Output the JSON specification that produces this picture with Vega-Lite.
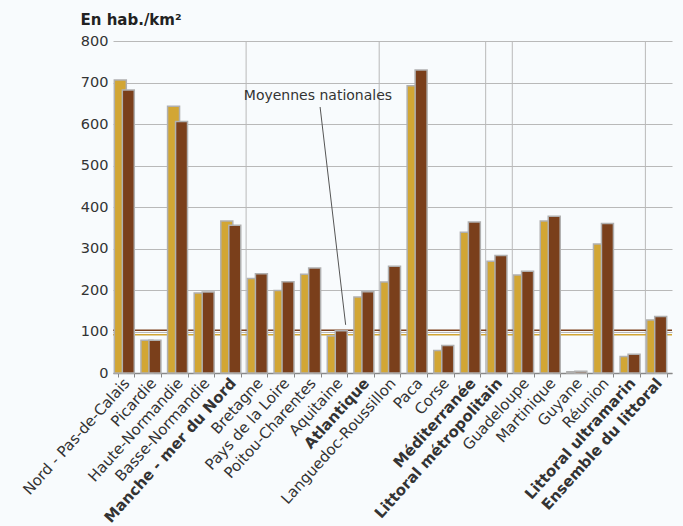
{
  "$schema": "https://vega.github.io/schema/vega-lite/v6.json",
  "autosize": "none",
  "width": 559,
  "height": 332,
  "padding": {"left": 113, "top": 41, "right": 11, "bottom": 153},
  "background": "#f8fbfd",
  "config": {"view": {"stroke": null}, "font": "DejaVu Sans"},
  "datasets": {
    "densite": [
      {"zone": "Nord - Pas-de-Calais", "annee": "1999", "valeur": 706},
      {"zone": "Picardie", "annee": "1999", "valeur": 79},
      {"zone": "Haute-Normandie", "annee": "1999", "valeur": 643},
      {"zone": "Basse-Normandie", "annee": "1999", "valeur": 193},
      {"zone": "Manche - mer du Nord", "annee": "1999", "valeur": 366},
      {"zone": "Bretagne", "annee": "1999", "valeur": 228},
      {"zone": "Pays de la Loire", "annee": "1999", "valeur": 199},
      {"zone": "Poitou-Charentes", "annee": "1999", "valeur": 238},
      {"zone": "Aquitaine", "annee": "1999", "valeur": 89},
      {"zone": "Atlantique", "annee": "1999", "valeur": 183},
      {"zone": "Languedoc-Roussillon", "annee": "1999", "valeur": 219},
      {"zone": "Paca", "annee": "1999", "valeur": 692},
      {"zone": "Corse", "annee": "1999", "valeur": 54},
      {"zone": "Méditerranée", "annee": "1999", "valeur": 339},
      {"zone": "Littoral métropolitain", "annee": "1999", "valeur": 269},
      {"zone": "Guadeloupe", "annee": "1999", "valeur": 236},
      {"zone": "Martinique", "annee": "1999", "valeur": 366},
      {"zone": "Guyane", "annee": "1999", "valeur": 3},
      {"zone": "Réunion", "annee": "1999", "valeur": 311},
      {"zone": "Littoral ultramarin", "annee": "1999", "valeur": 40},
      {"zone": "Ensemble du littoral", "annee": "1999", "valeur": 128},
      {"zone": "Nord - Pas-de-Calais", "annee": "2010", "valeur": 682},
      {"zone": "Picardie", "annee": "2010", "valeur": 79},
      {"zone": "Haute-Normandie", "annee": "2010", "valeur": 606},
      {"zone": "Basse-Normandie", "annee": "2010", "valeur": 195},
      {"zone": "Manche - mer du Nord", "annee": "2010", "valeur": 356},
      {"zone": "Bretagne", "annee": "2010", "valeur": 239},
      {"zone": "Pays de la Loire", "annee": "2010", "valeur": 220},
      {"zone": "Poitou-Charentes", "annee": "2010", "valeur": 253},
      {"zone": "Aquitaine", "annee": "2010", "valeur": 102},
      {"zone": "Atlantique", "annee": "2010", "valeur": 196},
      {"zone": "Languedoc-Roussillon", "annee": "2010", "valeur": 257},
      {"zone": "Paca", "annee": "2010", "valeur": 730},
      {"zone": "Corse", "annee": "2010", "valeur": 66},
      {"zone": "Méditerranée", "annee": "2010", "valeur": 364},
      {"zone": "Littoral métropolitain", "annee": "2010", "valeur": 283},
      {"zone": "Guadeloupe", "annee": "2010", "valeur": 245},
      {"zone": "Martinique", "annee": "2010", "valeur": 378},
      {"zone": "Guyane", "annee": "2010", "valeur": 4},
      {"zone": "Réunion", "annee": "2010", "valeur": 360},
      {"zone": "Littoral ultramarin", "annee": "2010", "valeur": 45},
      {"zone": "Ensemble du littoral", "annee": "2010", "valeur": 136}
    ],
    "moyennes": [
      {"annee": "1999", "valeur": 92},
      {"annee": "2010", "valeur": 103}
    ],
    "separateurs": [
      {"pos": 5}, {"pos": 10}, {"pos": 14}, {"pos": 15}, {"pos": 20}
    ],
    "renvoi": [
      {"x1": 7.78, "y1": 641, "x2": 8.74, "y2": 116}
    ],
    "etiquette": [
      {"pos": 7.7, "valeur": 659, "texte": "Moyennes nationales"}
    ]
  },
  "resolve": {"scale": {"x": "independent"}},
  "layer": [
    {
      "data": {"name": "separateurs"},
      "mark": {"type": "rule", "color": "#b9b9b9", "strokeWidth": 1},
      "encoding": {
        "x": {"field": "pos", "type": "quantitative", "scale": {"domain": [0, 21], "nice": false, "zero": false}, "axis": null},
        "y": {
          "datum": 0, "type": "quantitative", "scale": {"domain": [0, 800], "nice": false},
          "axis": {
            "title": "En hab./km²", "titleAngle": 0, "titleAlign": "left", "titleBaseline": "alphabetic",
            "titleX": -33, "titleY": -17, "titleFontSize": 15, "titleFontWeight": "bold", "titleColor": "#222222",
            "values": [0, 100, 200, 300, 400, 500, 600, 700, 800],
            "labelFontSize": 14.5, "labelColor": "#333333", "labelPadding": 5,
            "ticks": false, "domain": false, "grid": true, "gridColor": "#b9b9b9", "gridWidth": 1, "gridOpacity": 1
          }
        },
        "y2": {"datum": 800}
      }
    },
    {
      "data": {"name": "moyennes"},
      "mark": {"type": "rule", "strokeWidth": 1.5},
      "encoding": {
        "y": {"field": "valeur", "type": "quantitative"},
        "color": {"field": "annee", "type": "nominal", "scale": {"domain": ["1999", "2010"], "range": ["#d2a634", "#7a3f1b"]}, "legend": null}
      }
    },
    {
      "data": {"name": "densite"},
      "mark": {"type": "bar", "stroke": "#b0b0b0", "strokeWidth": 1.5, "width": {"band": 1.5}},
      "encoding": {
        "x": {
          "field": "zone", "type": "nominal", "sort": null,
          "scale": {"paddingInner": 0.4, "paddingOuter": 0.2},
          "axis": {
            "title": null, "labelAngle": -48, "labelFontSize": 15, "labelColor": "#333333", "labelLimit": 300,
            "labelFontWeight": {"condition": {"test": "indexof(['Manche - mer du Nord','Atlantique','Méditerranée','Littoral métropolitain','Littoral ultramarin','Ensemble du littoral'], datum.value) >= 0", "value": "bold"}, "value": "normal"},
            "tickBand": "extent", "tickColor": "#888888", "tickSize": 4, "domainColor": "#888888", "domainWidth": 1.5,
            "labelPadding": 3
          }
        },
        "xOffset": {"field": "annee", "type": "nominal", "scale": {"paddingInner": 0, "paddingOuter": 0}},
        "y": {"field": "valeur", "type": "quantitative"},
        "color": {
          "field": "annee", "type": "nominal",
          "legend": {
            "title": null, "orient": "none", "legendX": 460, "legendY": 58,
            "symbolType": "square", "symbolSize": 169, "symbolStrokeColor": "#aaaaaa", "symbolStrokeWidth": 1.5,
            "labelFontSize": 14.5, "labelColor": "#222222", "rowPadding": 7, "labelOffset": 4, "padding": 0
          }
        }
      }
    },
    {
      "data": {"name": "renvoi"},
      "mark": {"type": "rule", "color": "#555555", "strokeWidth": 1},
      "encoding": {
        "x": {"field": "x1", "type": "quantitative", "scale": {"domain": [0, 21], "nice": false, "zero": false}, "axis": null},
        "x2": {"field": "x2"},
        "y": {"field": "y1", "type": "quantitative"},
        "y2": {"field": "y2"}
      }
    },
    {
      "data": {"name": "etiquette"},
      "mark": {"type": "text", "fontSize": 14, "color": "#333333", "baseline": "alphabetic", "align": "center"},
      "encoding": {
        "x": {"field": "pos", "type": "quantitative", "scale": {"domain": [0, 21], "nice": false, "zero": false}, "axis": null},
        "y": {"field": "valeur", "type": "quantitative"},
        "text": {"field": "texte"}
      }
    }
  ]
}
